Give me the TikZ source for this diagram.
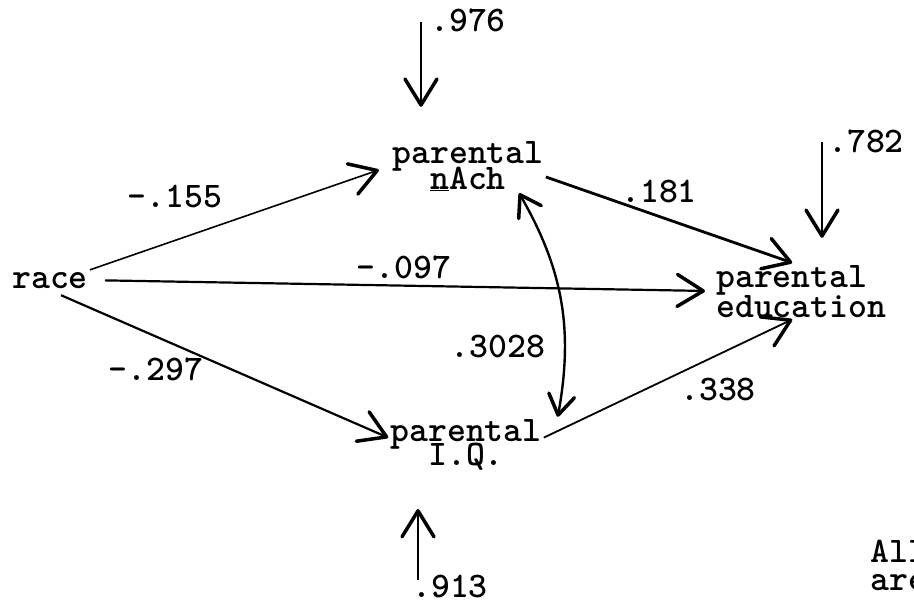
\documentclass[tikz,border=0pt]{standalone}
\usetikzlibrary{arrows.meta}
\newcommand\typefont{\ttfamily\bfseries\fontsize{36}{25}\selectfont\lineskiplimit=-40pt\relax}

\begin{document}
\begin{tikzpicture}[x=1pt,y=-1pt,font=\typefont,
  var/.style={anchor=base,align=center,inner sep=2pt},
  coef/.style={anchor=base,inner sep=1pt},
  eff/.style={-{Straight Barb[length=26pt,width=32pt,line width=3.5pt,round]},line width=2.2pt},
  corr/.style={{Straight Barb[length=20pt,width=26pt,line width=3.5pt,round]}-{Straight Barb[length=20pt,width=26pt,line width=3.5pt,round]},line width=2.4pt}]
  \useasboundingbox (0,0) rectangle (914,602);
  \node[var] (race) at (50,288) {race};
  \node[var] (nach) at (468,189) {parental\\[1pt]\underline{n}Ach};
  \node[var] (iq) at (466,465) {parental\\[-1pt]I.Q.};
  \node[var,anchor=base west,align=left] (edu) at (714,317) {parental\\[5pt]education};
  \node[var,anchor=base west,align=left] (note) at (868,590) {All\\[3pt]are};
  \node[coef] (c1) at (175,207) {-.155};
  \node[coef] (c2) at (404,278) {-.097};
  \node[coef] (c3) at (156,380) {-.297};
  \node[coef] (c4) at (659,202) {.181};
  \node[coef] (c5) at (718,400) {.338};
  \node[coef] (c6) at (498,357) {.3028};
  \node[coef] (e1) at (468,32) {.976};
  \node[coef] (e2) at (866,152) {.782};
  \node[coef] (e3) at (450,597) {.913};
  \coordinate (d1) at (421,22);
  \coordinate (d2) at (822,142);
  \coordinate (d3) at (418,580);
  \draw[eff,shorten >=32pt] (d1) -- (d1 |- nach.north);
  \draw[eff,shorten >=25pt] (d2) -- (d2 |- edu.north);
  \draw[eff,shorten >=37pt] (d3) -- (d3 |- iq.south);
  \draw[eff,line width=1.6pt,shorten >=12pt] (race.north east) -- (nach.west);
  \draw[eff,shorten <=15pt,shorten >=9pt] (race.east) -- (edu.west);
  \draw[eff,shorten <=12pt] (race.south) -- (iq.175);
  \draw[eff,line width=2.8pt] (nach.-8) -- ([xshift=-9pt]edu.north);
  \draw[eff,line width=1.8pt] (iq.5) -- ([xshift=-9pt]edu.south);
  \draw[corr] (nach.-28) to[bend left=20] ([xshift=14pt]iq.north east);
\end{tikzpicture}
\end{document}
